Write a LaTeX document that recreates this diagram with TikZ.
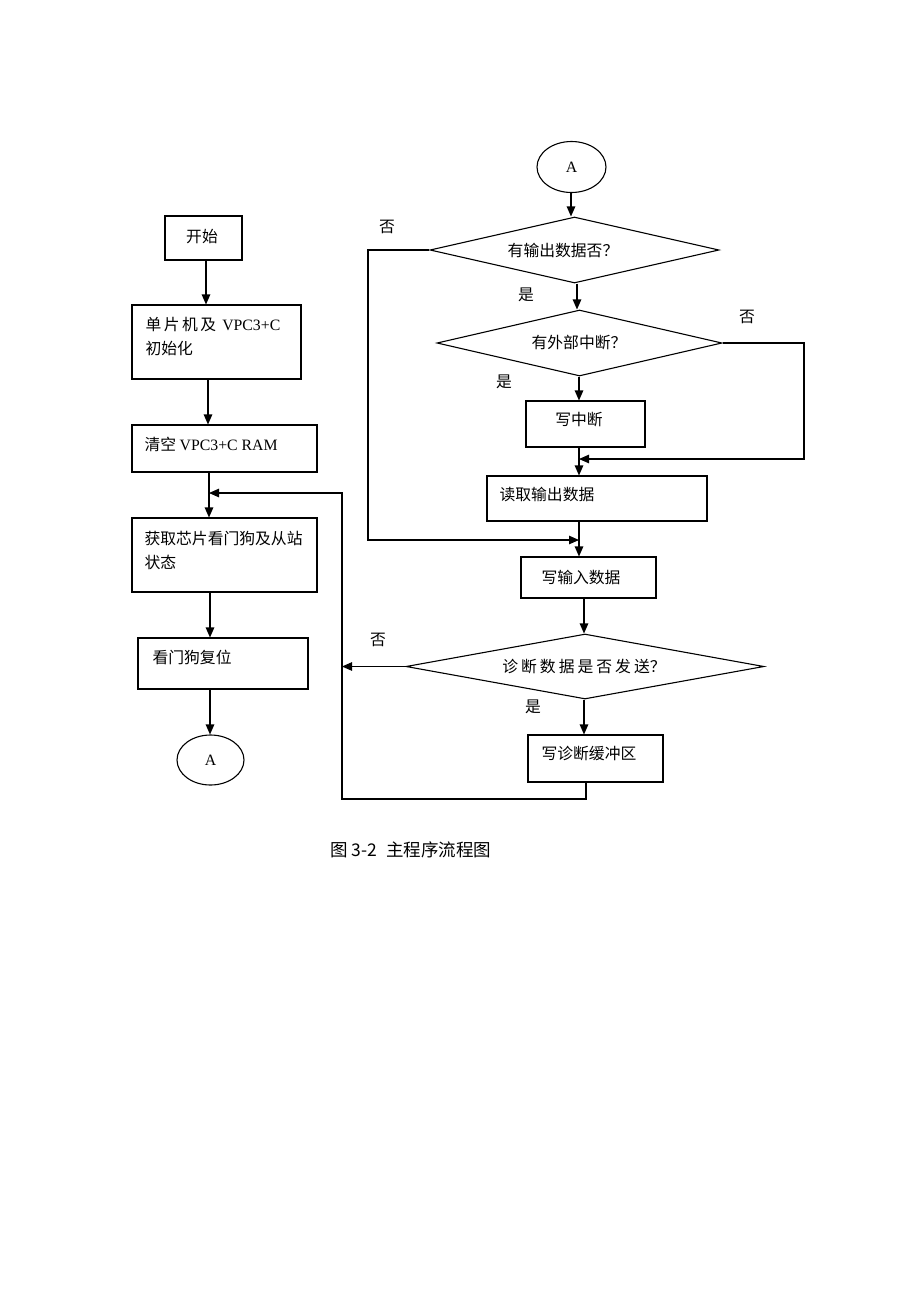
\documentclass[tikz,border=0pt]{standalone}
\usepackage{fontspec}
\setmainfont{Liberation Serif}
\newfontfamily\cjk{Noto Sans CJK SC}
\usetikzlibrary{arrows.meta,shapes.geometric}
\begin{document}
\begin{tikzpicture}[x=1pt,y=-1pt,line width=1.1pt,
  box/.style={draw, rectangle, inner sep=0pt},
  dia/.style={draw, diamond, inner sep=0pt, aspect=4},
  oval/.style={draw, ellipse, inner sep=0pt},
  txt/.style={inner sep=0pt, font=\fontsize{15.8}{19}\selectfont\cjk},
  lbl/.style={inner sep=0pt, font=\fontsize{15.8}{19}\selectfont\cjk},
  arr/.style={-{Triangle[length=10pt,width=8.5pt]}}]
\useasboundingbox (0,0) rectangle (920,1302);

% ---------- left column ----------
\node[box, minimum width=77, minimum height=44] (start) at (203.5,238) {};
\node[txt] (tstart) at (202,237) {开始};
\node[box, minimum width=169, minimum height=74] (b2) at (216.5,342) {};
\node[txt, anchor=west] (t2a) at (145,325) {单\hspace{2.5pt}片\hspace{2.5pt}机\hspace{2.5pt}及\hspace{6pt}{\rmfamily VPC3+C}};
\node[txt, anchor=west] (t2b) at (145,348) {初始化};
\node[box, minimum width=185, minimum height=47] (b3) at (224.5,448.5) {};
\node[txt, anchor=west] (t3) at (144,444) {清空 {\rmfamily VPC3+C RAM}};
\node[box, minimum width=185, minimum height=74] (b4) at (224.5,555) {};
\node[txt, anchor=west] (t4a) at (144,538) {获取芯片看门狗及从站};
\node[txt, anchor=west] (t4b) at (144,562) {状态};
\node[box, minimum width=170, minimum height=51] (b5) at (223,663.5) {};
\node[txt, anchor=west] (t5) at (152,657) {看门狗复位};
\node[oval, minimum width=67, minimum height=50] (A1) at (210.5,760) {};
\node[inner sep=0pt, font=\fontsize{15.8}{19}\selectfont] (tA1) at (210.5,760) {A};

\coordinate (xa) at (206,0);
\coordinate (xb) at (208,0);
\coordinate (xc) at (209,0);
\coordinate (xd) at (210,0);
\draw[arr] (start.south -| xa) -- (b2.north -| xa);
\draw[arr] (b2.south -| xb) -- (b3.north -| xb);
\draw[arr] (b3.south -| xc) -- (b4.north -| xc);
\draw[arr] (b4.south -| xd) -- (b5.north -| xd);
\draw[arr] (b5.south -| xd) -- (A1.north -| xd);

% ---------- right column ----------
\node[oval, minimum width=69, minimum height=51] (A2) at (571.5,167) {};
\node[inner sep=0pt, font=\fontsize{15.8}{19}\selectfont] (tA2) at (571.5,167) {A};
\node[dia, minimum width=289, minimum height=66] (d1) at (574.5,250) {};
\node[txt] (td1) at (563,250) {有输出数据否？};
\node[dia, minimum width=285, minimum height=66] (d2) at (579.5,343) {};
\node[txt] (td2) at (579,342) {有外部中断？};
\node[box, minimum width=119, minimum height=46] (wi) at (585.5,424) {};
\node[txt] (twi) at (579,420) {写中断};
\node[box, minimum width=220, minimum height=45] (rd) at (597,498.5) {};
\node[txt, anchor=west] (trd) at (499,495) {读取输出数据};
\node[box, minimum width=135, minimum height=41] (wo) at (588.5,577.5) {};
\node[txt] (two) at (581,577) {写输入数据};
\node[dia, minimum width=358, minimum height=65] (d3) at (585,666.5) {};
\node[txt] (td3) at (584,666) {诊\hspace{3pt}断\hspace{3pt}数\hspace{3pt}据\hspace{3pt}是\hspace{3pt}否\hspace{3pt}发\hspace{3pt}送？};
\node[box, minimum width=135, minimum height=47] (wd) at (595.5,758.5) {};
\node[txt, anchor=west] (twd) at (541,754) {写诊断缓冲区};

% yes / no labels
\node[lbl] (n1) at (387,227) {否};
\node[lbl] (y1) at (526,295) {是};
\node[lbl] (n2) at (747,317) {否};
\node[lbl] (y2) at (504,382) {是};
\node[lbl] (n3) at (378,640) {否};
\node[lbl] (y3) at (533,707) {是};

\coordinate (x1) at (571,0);
\coordinate (x2) at (577,0);
\coordinate (x3) at (579,0);
\coordinate (x4) at (584,0);
\coordinate (x5) at (586,0);
\coordinate (L1) at (368,0);
\coordinate (R1) at (804,0);
\coordinate (L2) at (342,0);
\coordinate (m1) at (579,540);
\coordinate (m2) at (579,459);
\coordinate (m3) at (209,493);
\coordinate (bot) at (0,799);

\draw[arr] (A2.south -| x1) -- (d1.north -| x1);
\draw[arr] (d1.south -| x2) -- (d2.north -| x2);
\draw[arr] (d2.south -| x3) -- (wi.north -| x3);
\draw[arr] (wi.south -| x3) -- (rd.north -| x3);
\draw[arr] (rd.south -| x3) -- (wo.north -| x3);
\draw[arr] (wo.south -| x4) -- (d3.north -| x4);
\draw[arr] (d3.south -| x4) -- (wd.north -| x4);

\draw[arr] (d1.west) -- (d1.west -| L1) -- (L1 |- m1) -- (m1);
\draw[arr] (d2.east) -- (d2.east -| R1) -- (R1 |- m2) -- (m2);
\draw[arr] (d3.west) -- (d3.west -| L2);
\draw[arr] (wd.south -| x5) -- (x5 |- bot) -- (bot -| L2) -- (L2 |- m3) -- (m3);

% caption
\node[inner sep=0pt, font=\fontsize{17.5}{20}\selectfont\cjk] (cap) at (411,850) {图 3-2\hspace{5pt} 主程序流程图};
\end{tikzpicture}
\end{document}
